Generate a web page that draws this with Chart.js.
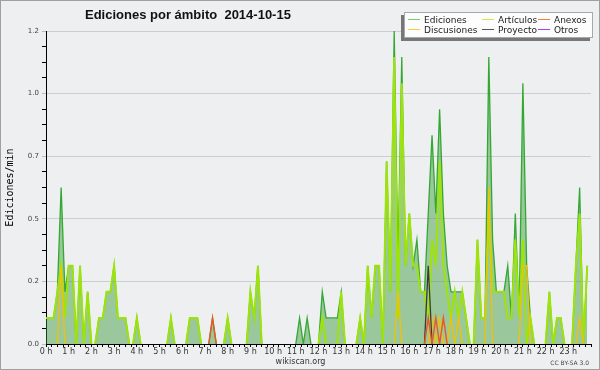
<!DOCTYPE html>
<html>
<head>
<meta charset="utf-8">
<title>Ediciones por ámbito 2014-10-15</title>
<script src="https://cdn.jsdelivr.net/npm/chart.js@4.4.1/dist/chart.umd.min.js"></script>
<style>
  html, body { margin: 0; padding: 0; background: #eeeff0; }
  #chart { display: block; }
</style>
</head>
<body>
<canvas id="chart" width="600" height="370"></canvas>
<script>
// edits per minute, one value per 10-minute bin (00:00 ... 23:50), 12 bins per row = 2 hours
const ediciones = [
  0.1, 0.1, 0.1, 0.2, 0.6, 0.2, 0.3, 0.3, 0, 0.3, 0, 0.2,
  0, 0, 0.1, 0.1, 0.2, 0.2, 0.3, 0.1, 0.1, 0.1, 0, 0,
  0.1, 0, 0, 0, 0, 0, 0, 0, 0, 0.1, 0, 0,
  0, 0, 0.1, 0.1, 0.1, 0, 0, 0, 0.1, 0, 0, 0,
  0.1, 0, 0, 0, 0, 0, 0.2, 0.1, 0.3, 0, 0, 0,
  0, 0, 0, 0, 0, 0, 0, 0.1, 0, 0.1, 0, 0,
  0, 0.2, 0.1, 0.1, 0.1, 0.1, 0.2, 0, 0, 0, 0, 0.1,
  0, 0.3, 0.1, 0.3, 0.3, 0, 0.7, 0.2, 1.2, 0.3, 1.1, 0.3,
  0.5, 0.3, 0.4, 0.2, 0.2, 0.5, 0.8, 0.5, 0.9, 0.5, 0.3, 0.2,
  0.2, 0.2, 0.2, 0.1, 0, 0, 0.4, 0.1, 0.1, 1.1, 0.4, 0.2,
  0.2, 0.2, 0.3, 0.1, 0.5, 0.1, 1.0, 0.3, 0.1, 0, 0, 0,
  0, 0.2, 0, 0.1, 0.1, 0, 0, 0, 0.3, 0.6, 0, 0.3
];
const articulos = [
  0.1, 0.1, 0.1, 0.2, 0.3, 0.1, 0.3, 0.3, 0, 0.3, 0, 0.2,
  0, 0, 0.1, 0.1, 0.2, 0.2, 0.3, 0.1, 0.1, 0.1, 0, 0,
  0.1, 0, 0, 0, 0, 0, 0, 0, 0, 0.1, 0, 0,
  0, 0, 0.1, 0.1, 0.1, 0, 0, 0, 0, 0, 0, 0,
  0.1, 0, 0, 0, 0, 0, 0.2, 0.1, 0.3, 0, 0, 0,
  0, 0, 0, 0, 0, 0, 0, 0, 0, 0, 0, 0,
  0, 0.1, 0, 0, 0, 0, 0.2, 0, 0, 0, 0, 0.1,
  0, 0.3, 0.1, 0.3, 0.3, 0, 0.7, 0.2, 1.1, 0.1, 1.0, 0.3,
  0.5, 0.3, 0.3, 0.2, 0.2, 0.1, 0.4, 0.3, 0.7, 0.3, 0.2, 0.1,
  0.2, 0.1, 0.2, 0.1, 0, 0, 0.4, 0.1, 0.1, 0.5, 0.2, 0.2,
  0.2, 0.2, 0.1, 0.1, 0.4, 0.1, 0.4, 0, 0.1, 0, 0, 0,
  0, 0.2, 0, 0.1, 0.1, 0, 0, 0, 0.3, 0.5, 0, 0.3
];
const discusiones = [
  0, 0, 0, 0, 0.3, 0, 0, 0, 0, 0, 0, 0,
  0, 0, 0, 0, 0, 0, 0, 0, 0, 0, 0, 0,
  0, 0, 0, 0, 0, 0, 0, 0, 0, 0, 0, 0,
  0, 0, 0, 0, 0, 0, 0, 0, 0, 0, 0, 0,
  0, 0, 0, 0, 0, 0, 0, 0, 0, 0, 0, 0,
  0, 0, 0, 0, 0, 0, 0, 0, 0, 0, 0, 0,
  0, 0, 0, 0, 0, 0, 0, 0, 0, 0, 0, 0,
  0, 0, 0, 0, 0, 0, 0, 0, 0, 0.2, 0, 0,
  0, 0, 0, 0, 0, 0, 0.1, 0, 0.1, 0, 0, 0.1,
  0, 0.1, 0, 0, 0, 0, 0, 0, 0, 0.6, 0, 0,
  0, 0, 0, 0, 0, 0, 0.3, 0.3, 0, 0, 0, 0,
  0, 0, 0, 0, 0, 0, 0, 0, 0, 0.1, 0, 0
];
const proyecto = [
  0, 0, 0, 0, 0, 0, 0, 0, 0, 0, 0, 0,
  0, 0, 0, 0, 0, 0, 0, 0, 0, 0, 0, 0,
  0, 0, 0, 0, 0, 0, 0, 0, 0, 0, 0, 0,
  0, 0, 0, 0, 0, 0, 0, 0, 0, 0, 0, 0,
  0, 0, 0, 0, 0, 0, 0, 0, 0, 0, 0, 0,
  0, 0, 0, 0, 0, 0, 0, 0, 0, 0, 0, 0,
  0, 0, 0, 0, 0, 0, 0, 0, 0, 0, 0, 0,
  0, 0, 0, 0, 0, 0, 0, 0, 0, 0, 0, 0,
  0, 0, 0, 0, 0, 0.3, 0, 0, 0, 0, 0, 0,
  0, 0, 0, 0, 0, 0, 0, 0, 0, 0, 0, 0,
  0, 0, 0, 0, 0, 0, 0, 0, 0, 0, 0, 0,
  0, 0, 0, 0, 0, 0, 0, 0, 0, 0, 0, 0
];
const anexos = [
  0, 0, 0, 0, 0, 0, 0, 0, 0, 0, 0, 0,
  0, 0, 0, 0, 0, 0, 0, 0, 0, 0, 0, 0,
  0, 0, 0, 0, 0, 0, 0, 0, 0, 0, 0, 0,
  0, 0, 0, 0, 0, 0, 0, 0, 0.1, 0, 0, 0,
  0, 0, 0, 0, 0, 0, 0, 0, 0, 0, 0, 0,
  0, 0, 0, 0, 0, 0, 0, 0, 0, 0, 0, 0,
  0, 0, 0, 0, 0, 0, 0, 0, 0, 0, 0, 0,
  0, 0, 0, 0, 0, 0, 0, 0, 0, 0, 0, 0,
  0, 0, 0, 0, 0, 0.1, 0, 0.1, 0, 0.1, 0, 0,
  0, 0, 0, 0, 0, 0, 0, 0, 0, 0, 0, 0,
  0, 0, 0, 0, 0, 0, 0, 0, 0, 0, 0, 0,
  0, 0, 0, 0, 0, 0, 0, 0, 0, 0, 0, 0
];
const otros = [
  0, 0, 0, 0, 0, 0, 0, 0, 0, 0, 0, 0,
  0, 0, 0, 0, 0, 0, 0, 0, 0, 0, 0, 0,
  0, 0, 0, 0, 0, 0, 0, 0, 0, 0, 0, 0,
  0, 0, 0, 0, 0, 0, 0, 0, 0, 0, 0, 0,
  0, 0, 0, 0, 0, 0, 0, 0, 0, 0, 0, 0,
  0, 0, 0, 0, 0, 0, 0, 0, 0, 0, 0, 0,
  0, 0, 0, 0, 0, 0, 0, 0, 0, 0, 0, 0,
  0, 0, 0, 0, 0, 0, 0, 0, 0, 0, 0, 0,
  0, 0, 0, 0, 0, 0, 0, 0, 0, 0, 0, 0,
  0, 0, 0, 0, 0, 0, 0, 0, 0, 0, 0, 0,
  0, 0, 0, 0, 0, 0, 0, 0, 0, 0, 0, 0,
  0, 0, 0, 0, 0, 0, 0, 0, 0, 0, 0, 0
];

const hourLabels = ['0 h', '1 h', '2 h', '3 h', '4 h', '5 h', '6 h', '7 h', '8 h', '9 h', '10 h', '11 h',
  '12 h', '13 h', '14 h', '15 h', '16 h', '17 h', '18 h', '19 h', '20 h', '21 h', '22 h', '23 h'];
const yTickLabels = ['0.0', '0.2', '0.5', '0.7', '1.0', '1.2'];
const seriesNames = ['Ediciones', 'Artículos', 'Discusiones', 'Proyecto', 'Anexos', 'Otros'];
const chartTitle = 'Ediciones por ámbito  2014-10-15';
const yTitle = 'Ediciones/min';
const siteText = 'wikiscan.org';
const licenceText = 'CC BY-SA 3.0';

const binHours = 10 / 60;

function toPoints(values) {
  return values.map((v, i) => ({x: i * binHours, y: v}));
}

// hide flat stretches along zero so the baseline stays black
const hideZero = {
  borderColor: ctx => (ctx.p0.parsed.y === 0 && ctx.p1.parsed.y === 0 ? 'rgba(0,0,0,0)' : undefined)
};

function lineSet(label, values, color, width, order) {
  return {
    label: label,
    data: toPoints(values),
    borderColor: color,
    borderWidth: width,
    pointRadius: 0,
    tension: 0,
    fill: false,
    order: order,
    segment: hideZero
  };
}

const total = lineSet(seriesNames[0], ediciones, '#33a833', 1.3, 6);
total.fill = 'origin';
total.backgroundColor = 'rgba(50,150,50,0.45)';

const datasets = [
  total,
  lineSet(seriesNames[1], articulos, '#9ee40c', 2, 5),
  lineSet(seriesNames[2], discusiones, '#f2c200', 1.3, 4),
  lineSet(seriesNames[3], proyecto, '#3a3a3a', 1.3, 3),
  lineSet(seriesNames[4], anexos, '#ee5522', 1.4, 2),
  lineSet(seriesNames[5], otros, '#9944ff', 1.3, 1)
];

// legend is laid out in columns of two, like the original
const legendColors = ['#77cc77', '#ccee44', '#ffcc33', '#555555', '#ff7744', '#9944ff'];
const legendSlots = [
  {i: 0, x: 408, y: 19}, {i: 2, x: 408, y: 29},
  {i: 1, x: 482, y: 19}, {i: 3, x: 482, y: 29},
  {i: 4, x: 538, y: 19}, {i: 5, x: 538, y: 29}
];

const decor = {
  id: 'decor',
  beforeDraw(chart) {
    const ctx = chart.ctx;
    ctx.save();
    ctx.fillStyle = '#eeeff0';
    ctx.fillRect(0, 0, chart.width, chart.height);
    ctx.restore();
  },
  afterDraw(chart) {
    const ctx = chart.ctx;
    ctx.save();

    // title
    ctx.fillStyle = '#111';
    ctx.font = 'bold 13px "Liberation Sans"';
    ctx.textAlign = 'left';
    ctx.textBaseline = 'alphabetic';
    ctx.fillText(chartTitle, 85, 18.5);

    // legend box with shadow
    ctx.fillStyle = '#777';
    ctx.fillRect(401, 15, 189, 26);
    ctx.fillStyle = '#fdfdfd';
    ctx.fillRect(404, 12, 189, 26);
    ctx.strokeStyle = '#a8a8a8';
    ctx.lineWidth = 1;
    ctx.strokeRect(404.5, 12.5, 188, 25);

    ctx.font = '9px "DejaVu Sans"';
    legendSlots.forEach(s => {
      ctx.strokeStyle = legendColors[s.i];
      ctx.beginPath();
      ctx.moveTo(s.x, s.y + 0.5);
      ctx.lineTo(s.x + 12, s.y + 0.5);
      ctx.stroke();
      ctx.fillStyle = '#222';
      ctx.fillText(seriesNames[s.i], s.x + 16, s.y + 3.5);
    });

    // footer
    ctx.fillStyle = '#333';
    ctx.font = '8px "DejaVu Sans"';
    ctx.textAlign = 'center';
    ctx.fillText(siteText, 300.5, 364);
    ctx.font = '6px "DejaVu Sans"';
    ctx.textAlign = 'right';
    ctx.fillStyle = '#444';
    ctx.fillText(licenceText, 589, 365);

    // frame
    ctx.strokeStyle = '#a0a0a0';
    ctx.strokeRect(0.5, 0.5, chart.width - 1, chart.height - 1);
    ctx.restore();
  }
};

new Chart(document.getElementById('chart'), {
  type: 'line',
  data: {datasets: datasets},
  options: {
    responsive: false,
    devicePixelRatio: 1,
    animation: false,
    layout: {padding: {top: 31, right: 9, bottom: 12, left: 0}},
    plugins: {
      legend: {display: false},
      title: {display: false},
      tooltip: {enabled: false}
    },
    scales: {
      x: {
        type: 'linear',
        min: 0,
        max: 24,
        z: 1,
        border: {color: '#000', width: 1},
        grid: {drawOnChartArea: false, drawTicks: true, tickLength: 3, tickColor: '#000'},
        ticks: {
          stepSize: 0.25,
          autoSkip: false,
          maxRotation: 0,
          padding: 0,
          color: '#333',
          font: {family: 'DejaVu Sans', size: 8},
          callback: v => (Number.isInteger(v) && v < hourLabels.length ? hourLabels[v] : '')
        },
        afterFit: scale => { scale.height = 14; }
      },
      y: {
        min: 0,
        max: 1.2,
        z: 1,
        border: {color: '#000', width: 1},
        grid: {
          color: ctx => (ctx.index % 4 === 0 ? 'rgba(0,0,0,0.14)' : 'rgba(0,0,0,0)'),
          tickColor: ctx => (ctx.index % 4 === 0 ? '#bbbbbb' : '#000'),
          tickLength: 4
        },
        ticks: {
          stepSize: 0.06,
          autoSkip: false,
          padding: 3,
          color: '#444',
          font: {family: 'DejaVu Sans', size: 7},
          callback: (v, i) => (i % 4 === 0 ? yTickLabels[i / 4] : '')
        },
        title: {
          display: true,
          text: yTitle,
          color: '#000',
          padding: {top: 4, bottom: 0},
          font: {family: 'DejaVu Sans Mono', size: 10}
        },
        afterFit: scale => { scale.width = 46; }
      }
    }
  },
  plugins: [decor]
});
</script>
</body>
</html>
